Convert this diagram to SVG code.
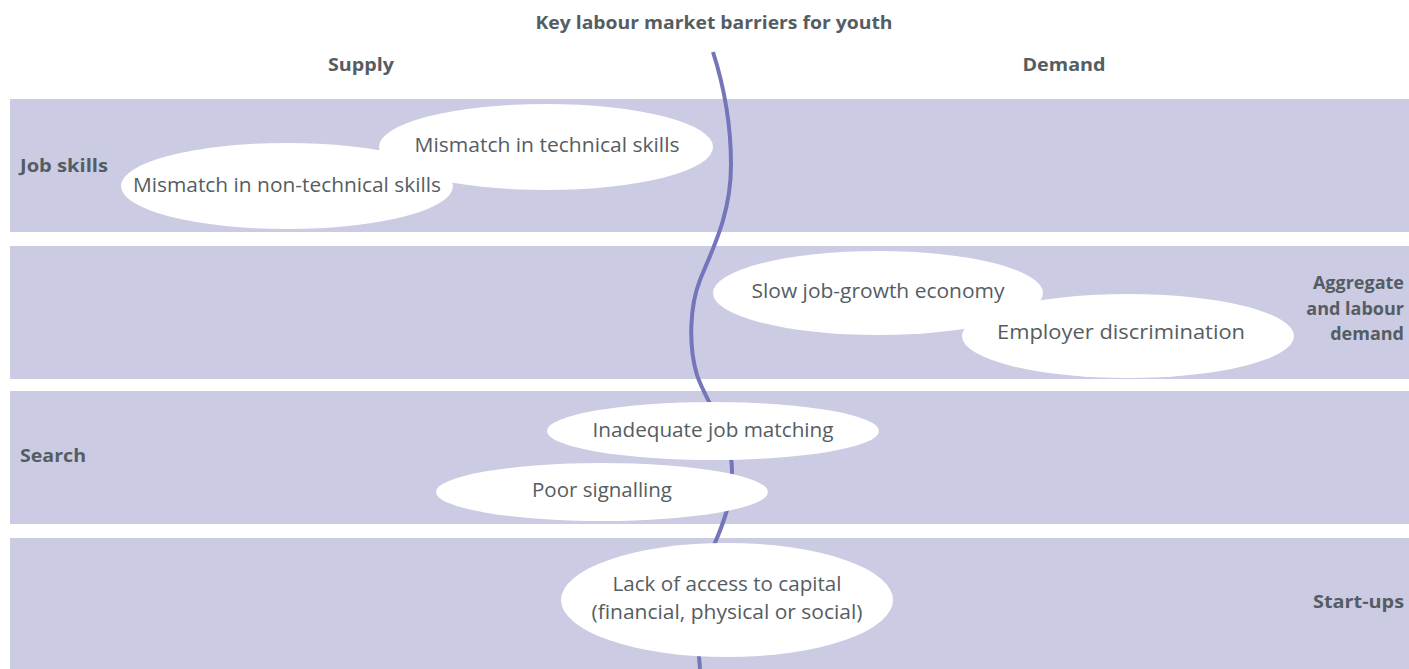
<svg xmlns="http://www.w3.org/2000/svg" width="1409" height="669" viewBox="0 0 1409 669">
<style>
.band{fill:#CBCBE3}
.ell{fill:#FFFFFF}
.t{font-family:"Open Sans","Liberation Sans",sans-serif;font-size:20px;fill:#555D63;text-anchor:middle}
.b{font-family:"Open Sans","Liberation Sans",sans-serif;font-size:18px;font-weight:bold;fill:#555D63}
.c{text-anchor:middle}
.r{text-anchor:end}
.curve{fill:none;stroke:#7575B9;stroke-width:4;stroke-linecap:butt}
</style>
<rect width="1409" height="669" fill="#FFFFFF"/>
<g id="headers">
<text class="b c" x="714" y="29" textLength="357" lengthAdjust="spacingAndGlyphs">Key labour market barriers for youth</text>
<text class="b c" x="361" y="71" textLength="66" lengthAdjust="spacingAndGlyphs">Supply</text>
<text class="b c" x="1064" y="71" textLength="83" lengthAdjust="spacingAndGlyphs">Demand</text>
</g>
<g id="band-job-skills">
<rect class="band" x="10" y="99" width="1399" height="133"/>
<text class="b" x="20" y="172" textLength="88" lengthAdjust="spacingAndGlyphs">Job skills</text>
</g>
<g id="band-aggregate">
<rect class="band" x="10" y="246" width="1399" height="133"/>
<text class="b r" x="1404" y="289">Aggregate</text>
<text class="b r" x="1404" y="315">and labour</text>
<text class="b r" x="1404" y="340">demand</text>
</g>
<g id="band-search">
<rect class="band" x="10" y="391" width="1399" height="133"/>
<text class="b" x="20" y="462" textLength="66" lengthAdjust="spacingAndGlyphs">Search</text>
</g>
<g id="band-startups">
<rect class="band" x="10" y="538" width="1399" height="131"/>
<text class="b r" x="1404" y="608" textLength="91" lengthAdjust="spacingAndGlyphs">Start-ups</text>
</g>
<g id="connectors">
<path class="curve" d="M713,52 C722,80 731,120 731,165 C731,215 712,250 700,280 C690,305 688,345 697,375 C705,400 732,435 732,470 C732,500 725,520 714,545 C703,570 695,620 700,669"/>
</g>
<g id="node-technical">
<ellipse class="ell" cx="546" cy="147" rx="167" ry="43"/>
<text class="t" x="547" y="152" textLength="265" lengthAdjust="spacingAndGlyphs">Mismatch in technical skills</text>
</g>
<g id="node-nontechnical">
<ellipse class="ell" cx="287" cy="186" rx="166" ry="43"/>
<text class="t" x="287" y="192" textLength="308" lengthAdjust="spacingAndGlyphs">Mismatch in non-technical skills</text>
</g>
<g id="node-slow">
<ellipse class="ell" cx="878" cy="293" rx="165" ry="42"/>
<text class="t" x="878" y="298" textLength="253" lengthAdjust="spacingAndGlyphs">Slow job-growth economy</text>
</g>
<g id="node-discrimination">
<ellipse class="ell" cx="1128" cy="336" rx="166" ry="42"/>
<text class="t" x="1121" y="339" textLength="248" lengthAdjust="spacingAndGlyphs">Employer discrimination</text>
</g>
<g id="node-matching">
<ellipse class="ell" cx="713" cy="431" rx="166" ry="29"/>
<text class="t" x="713" y="437" textLength="241" lengthAdjust="spacingAndGlyphs">Inadequate job matching</text>
</g>
<g id="node-signalling">
<ellipse class="ell" cx="602" cy="492" rx="166" ry="29"/>
<text class="t" x="602" y="497" textLength="140" lengthAdjust="spacingAndGlyphs">Poor signalling</text>
</g>
<g id="node-capital">
<ellipse class="ell" cx="727" cy="600" rx="166" ry="57"/>
<text class="t" x="727" y="591" textLength="229" lengthAdjust="spacingAndGlyphs">Lack of access to capital</text>
<text class="t" x="727" y="619" textLength="271" lengthAdjust="spacingAndGlyphs">(financial, physical or social)</text>
</g>
</svg>
